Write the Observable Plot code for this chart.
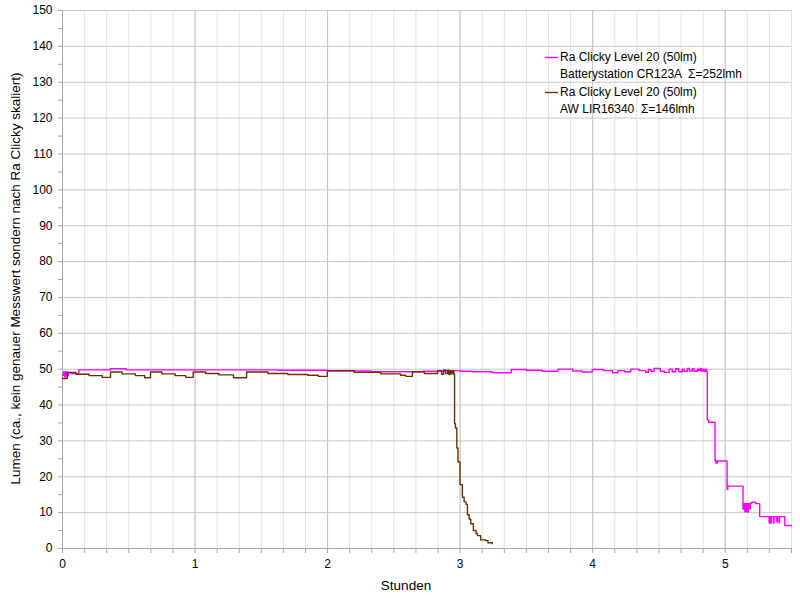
<!DOCTYPE html>
<html>
<head>
<meta charset="utf-8">
<script src="https://cdn.jsdelivr.net/npm/d3@7"></script>
<script src="https://cdn.jsdelivr.net/npm/@observablehq/plot@0.6"></script>
<style>
  html, body { margin: 0; padding: 0; background: #fff; }
  #wrap { position: relative; width: 800px; height: 600px; font-family: "Liberation Sans", Arial, sans-serif; }
  #legend { position: absolute; left: 545px; top: 49px; font-size: 12px; line-height: 17px; color: #000; }
  .entry { position: relative; padding-left: 15px; margin-bottom: 1px; white-space: pre; }
  .swatch { position: absolute; left: 0; top: 7px; display: block; }
</style>
</head>
<body>
<div id="wrap">
  <div id="chart"></div>
  <div id="legend"></div>
</div>
<script>
// ---- data ----
const seriesNames = [
  ["Ra Clicky Level 20 (50lm)", "Batterystation CR123A  Σ=252lmh"],
  ["Ra Clicky Level 20 (50lm)", "AW LIR16340  Σ=146lmh"]
];
const seriesColors = ["#ff00ff", "#663300"];

const hoursPink = [0, 0.008, 0.016, 0.024, 0.034, 0.045, 0.06, 0.123, 0.36, 0.48, 1.62, 2.0, 2.33, 2.72, 2.88, 3.0, 3.09, 3.243, 3.386, 3.5, 3.62, 3.738, 3.85, 3.92, 3.997, 4.08, 4.15, 4.19, 4.24, 4.287, 4.35, 4.40, 4.42, 4.44, 4.463, 4.51, 4.54, 4.576, 4.60, 4.626, 4.65, 4.677, 4.69, 4.714, 4.73, 4.752, 4.765, 4.79, 4.80, 4.81, 4.82, 4.83, 4.84, 4.85, 4.858, 4.865, 4.875, 4.923, 4.93, 4.94, 5.014, 5.02, 5.134, 5.14, 5.149, 5.153, 5.160, 5.164, 5.170, 5.174, 5.185, 5.189, 5.20, 5.23, 5.26, 5.331, 5.335, 5.343, 5.347, 5.364, 5.368, 5.389, 5.393, 5.406, 5.41, 5.45, 5.5];
const lumenPink = [48.3, 49.2, 47.9, 49.3, 48.2, 49.1, 48.8, 49.8, 50.1, 49.8, 49.7, 49.5, 49.3, 49.4, 49.6, 49.4, 49.3, 49.0, 49.9, 49.7, 49.4, 50.0, 49.5, 49.2, 49.9, 49.6, 49.0, 49.6, 49.3, 50.0, 49.6, 49.1, 49.9, 49.4, 50.2, 49.4, 49.1, 50.0, 49.3, 50.1, 49.3, 50.0, 49.4, 50.2, 49.5, 50.1, 49.4, 50.0, 49.6, 50.2, 49.5, 50.0, 49.4, 49.9, 49.3, 35.8, 35.2, 24.5, 23.8, 24.4, 16.5, 17.4, 11.0, 12.5, 10.2, 12.5, 10.4, 12.5, 10.1, 12.5, 11.0, 12.6, 12.9, 12.5, 8.9, 7.2, 8.9, 7.0, 8.9, 7.1, 8.9, 7.4, 8.9, 7.2, 8.9, 6.4, 6.3];

const hoursBrown = [0, 0.036, 0.1, 0.2, 0.3, 0.362, 0.45, 0.55, 0.62, 0.664, 0.75, 0.85, 0.93, 0.986, 1.08, 1.18, 1.29, 1.389, 1.55, 1.7, 1.85, 1.93, 1.998, 2.2, 2.4, 2.55, 2.59, 2.64, 2.73, 2.83, 2.86, 2.875, 2.89, 2.905, 2.915, 2.925, 2.935, 2.945, 2.952, 2.958, 2.965, 2.975, 2.984, 2.999, 3.017, 3.03, 3.045, 3.055, 3.068, 3.08, 3.10, 3.12, 3.13, 3.155, 3.19, 3.21, 3.243];
const lumenBrown = [47.4, 49.1, 48.6, 48.2, 47.7, 49.2, 48.7, 48.2, 47.6, 49.2, 48.7, 48.2, 47.7, 49.2, 48.8, 48.4, 47.6, 49.2, 48.8, 48.5, 48.3, 48.0, 49.6, 49.1, 48.7, 48.3, 48.0, 49.3, 48.8, 49.6, 48.6, 49.8, 48.8, 49.7, 48.5, 49.6, 48.7, 49.5, 48.6, 34.8, 33.6, 28.0, 24.1, 17.8, 14.3, 13.0, 12.3, 9.4, 8.2, 6.9, 5.0, 4.2, 3.6, 2.4, 2.2, 1.6, 1.3];

const xLabel = "Stunden";
const yLabel = "Lumen (ca., kein genauer Messwert sondern nach Ra Clicky skaliert)";
const xMajorTicks = [0, 1, 2, 3, 4, 5];
const yMajorTicks = d3.range(0, 151, 10);

// ---- derived tables ----
const pink = hoursPink.map((h, i) => ({h, v: lumenPink[i]}));
const brown = hoursBrown.map((h, i) => ({h, v: lumenBrown[i]}));
const xMinorTicks = d3.range(0, 34).map(i => i / 6);
const yAllTicks = d3.range(0, 151, 5);

const chart = Plot.plot({
  width: 800,
  height: 600,
  marginLeft: 62,
  marginRight: 9,
  marginTop: 10,
  marginBottom: 52,
  style: {fontFamily: "Liberation Sans, Arial, sans-serif", fontSize: "12px", background: "#fff", overflow: "visible"},
  x: {domain: [0, 5.5], axis: null},
  y: {domain: [0, 150], axis: null},
  marks: [
    Plot.ruleX(xMinorTicks, {stroke: "#e3e3e3", strokeWidth: 1}),
    Plot.ruleX(xMajorTicks, {stroke: "#c4c4c4", strokeWidth: 1}),
    Plot.ruleY(yMajorTicks, {stroke: "#c8c8c8", strokeWidth: 1}),
    Plot.axisX({ticks: xMinorTicks, tickSize: 5, tickFormat: () => "", stroke: "#a8a8a8", label: null}),
    Plot.axisX({ticks: xMajorTicks, tickSize: 0, tickPadding: 11, tickFormat: d => String(d), fill: "#000", fontSize: 12, label: null}),
    Plot.axisY({ticks: yAllTicks, tickSize: 4, tickFormat: () => "", stroke: "#a8a8a8", label: null}),
    Plot.axisY({ticks: yMajorTicks, tickSize: 0, tickPadding: 10, tickFormat: d => String(d), fill: "#000", fontSize: 12, label: null}),
    Plot.ruleX([0], {stroke: "#a8a8a8"}),
    Plot.ruleY([0], {stroke: "#a8a8a8"}),
    Plot.line(pink, {x: "h", y: "v", stroke: seriesColors[0], strokeWidth: 1.4, curve: "step-after"}),
    Plot.line(brown, {x: "h", y: "v", stroke: seriesColors[1], strokeWidth: 1.4, curve: "step-after"}),
    Plot.text([yLabel], {frameAnchor: "left", rotate: -90, dx: -47, dy: -1, fontSize: 13.5, fill: "#000", textAnchor: "middle"}),
    Plot.text([xLabel], {frameAnchor: "bottom", dx: -21, dy: 41, fontSize: 13.5, fill: "#000", textAnchor: "middle"})
  ]
});
document.getElementById("chart").appendChild(chart);

const legend = document.getElementById("legend");
const svgNS = "http://www.w3.org/2000/svg";
seriesNames.forEach((lines, i) => {
  const e = document.createElement("div");
  e.className = "entry";
  const sw = document.createElementNS(svgNS, "svg");
  sw.setAttribute("class", "swatch");
  sw.setAttribute("width", "13");
  sw.setAttribute("height", "3");
  const ln = document.createElementNS(svgNS, "line");
  ln.setAttribute("x1", "0"); ln.setAttribute("x2", "13");
  ln.setAttribute("y1", "1.5"); ln.setAttribute("y2", "1.5");
  ln.setAttribute("stroke", seriesColors[i]);
  ln.setAttribute("stroke-width", "1.4");
  sw.appendChild(ln);
  e.appendChild(sw);
  lines.forEach(t => {
    const d = document.createElement("div");
    d.textContent = t;
    e.appendChild(d);
  });
  legend.appendChild(e);
});
</script>
</body>
</html>
